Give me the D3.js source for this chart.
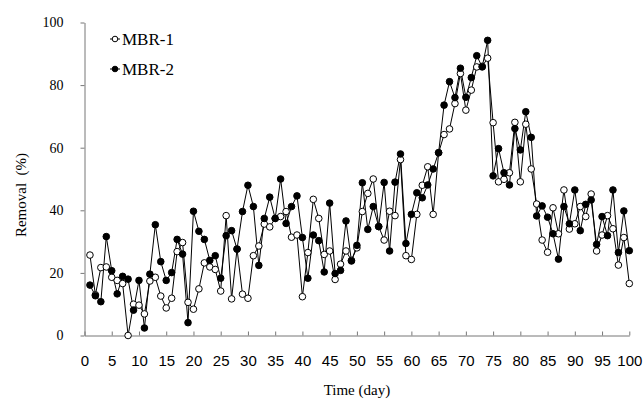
<!DOCTYPE html>
<html>
<head>
<meta charset="utf-8">
<script src="https://cdn.jsdelivr.net/npm/d3@7"></script>
<style>
  html, body { margin: 0; padding: 0; background: #fff; }
  svg { display: block; }
</style>
</head>
<body>
<svg id="chart" width="643" height="400"></svg>
<script>
const days = d3.range(1, 101);
const mbr1 = [25.7,13,21.7,21.9,18.6,17.6,16.6,0,10.0,9.7,
  6.9,17.4,18.6,12.6,8.8,11.9,26.8,29.7,10.6,8.4,
  14.9,23.2,21.9,21.1,14.2,38.3,11.7,27.6,13.2,11.9,
  25.5,28.6,35.6,34.7,37.4,38.0,39.6,31.4,32.1,12.4,
  26.5,43.5,37.4,25.9,27.0,17.9,22.8,27.0,24,28,
  39.6,45.4,50.0,34.8,30.5,39.7,38.3,56.2,25.5,24.3,
  38.7,48.0,53.9,38.7,58.4,64.2,66.0,74.1,83.7,72.0,
  78.4,85.8,86,88.6,68.0,49.1,49.9,52.0,68.1,49.1,
  67.5,53.2,42.0,30.5,26.6,40.8,32.5,46.5,34.0,35.7,
  41.2,38.0,45.2,27.0,32.1,38.3,34.1,22.5,31.3,16.6];
const mbr2 = [16.1,12.7,10.8,31.6,20.7,13.3,18.9,18,8.1,17.6,
  2.4,19.6,35.4,23.6,17.6,20.1,30.7,26.0,4.1,39.7,
  33.3,30.7,24.0,25.5,18.3,31.9,33.5,27.6,39.6,48.0,
  41.2,22.4,37.4,44.2,37.4,50.0,35.8,41.2,44.6,31.3,
  18.3,32.1,30.3,20.3,42.3,19.8,20.8,36.6,23.8,28.8,
  48.8,33.9,41.2,34.8,48.9,27.0,49.0,58.0,29.4,38.7,
  45.6,44.0,48.1,53.2,58.4,73.6,81.1,76.0,85.4,76.1,
  82.4,89.4,85.8,94.3,51.0,59.7,52.0,48.1,66.1,59.3,
  71.5,63.3,38.2,41.4,37.8,32.5,24.4,41.2,35.7,46.5,
  33.5,41.9,43.3,29.1,38.0,31.9,46.5,26.5,39.8,27.1];
const xTicks = d3.range(0, 101, 5);
const yTicks = [0, 20, 40, 60, 80, 100];
const seriesNames = ["MBR-1", "MBR-2"];

const svg = d3.select("#chart");
const x = d3.scaleLinear().domain([0, 100]).range([84.5, 629.3]);
const y = d3.scaleLinear().domain([0, 100]).range([335.5, 22.5]);
const axisColor = "#777";

// Y axis
const yAxis = svg.append("g").attr("transform", `translate(${x(0)},0)`)
  .call(d3.axisLeft(y).tickValues(yTicks).tickSize(4).tickPadding(17).tickSizeOuter(0));
yAxis.select(".domain").attr("stroke", axisColor);
yAxis.selectAll(".tick line").attr("stroke", axisColor);
yAxis.selectAll("text").attr("font-family", "'Liberation Serif', 'Times New Roman', serif")
  .attr("font-size", 14).attr("fill", "#000");

// X axis
const xAxis = svg.append("g").attr("transform", `translate(0,${y(0)})`)
  .call(d3.axisBottom(x).tickValues(xTicks).tickSize(-4).tickPadding(20).tickSizeOuter(0));
xAxis.select(".domain").attr("stroke", axisColor);
xAxis.selectAll(".tick line").attr("stroke", axisColor);
xAxis.selectAll("text").attr("font-family", "'Liberation Sans', Arial, sans-serif")
  .attr("font-size", 15).attr("fill", "#000");

// Axis titles
svg.append("text").attr("x", (x(0) + x(100)) / 2).attr("y", 395)
  .attr("text-anchor", "middle").attr("font-family", "'Liberation Serif', 'Times New Roman', serif")
  .attr("font-size", 15).text("Time (day)");
svg.append("text").attr("transform", "translate(26,195) rotate(-90)")
  .attr("text-anchor", "middle").attr("font-family", "'Liberation Serif', 'Times New Roman', serif")
  .attr("font-size", 15).attr("xml:space", "preserve").text("Removal  (%)");

const line = d3.line().x((d, i) => x(days[i])).y(d => y(d));
const sets = [{ vals: mbr1, fill: "#fff" }, { vals: mbr2, fill: "#000" }];

sets.forEach(s => {
  svg.append("path").datum(s.vals).attr("d", line)
    .attr("fill", "none").attr("stroke", "#000").attr("stroke-width", 1);
});
sets.forEach(s => {
  svg.append("g").selectAll("circle").data(s.vals).join("circle")
    .attr("cx", (d, i) => x(days[i])).attr("cy", d => y(d)).attr("r", 3.3)
    .attr("fill", s.fill).attr("stroke", "#000").attr("stroke-width", 1);
});

// Legend
const legend = svg.append("g");
seriesNames.forEach((name, i) => {
  const ly = 39 + i * 30;
  legend.append("line").attr("x1", 110).attr("x2", 120).attr("y1", ly).attr("y2", ly)
    .attr("stroke", "#000").attr("stroke-width", 1);
  legend.append("circle").attr("cx", 115).attr("cy", ly).attr("r", 2.8)
    .attr("fill", sets[i].fill).attr("stroke", "#000").attr("stroke-width", 1);
  legend.append("text").attr("x", 122).attr("y", ly).attr("dy", "0.35em")
    .attr("font-family", "'Liberation Serif', 'Times New Roman', serif")
    .attr("font-size", 17).text(name);
});
</script>
</body>
</html>
